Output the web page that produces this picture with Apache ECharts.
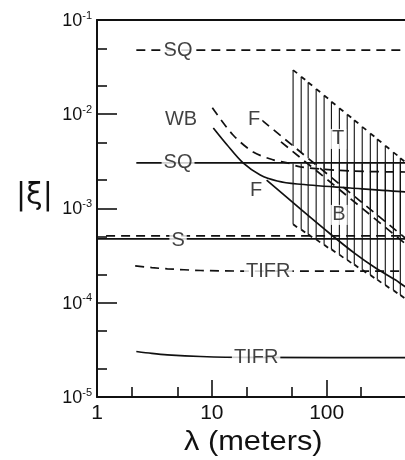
<!DOCTYPE html>
<html><head><meta charset="utf-8">
<script src="https://cdn.jsdelivr.net/npm/echarts@6/dist/echarts.min.js"></script>
<style>html,body{margin:0;padding:0;background:#fff}#c{width:405px;height:460px}</style>
</head><body><div id="c"></div>
<script>
// ---- axis ticks / labels ----
const xMin = 1, xMax = 481;          // the picture is cut at about 480 m
const yMin = 1e-5, yMax = 1e-1;
const xMajorTicks = [1, 10, 100];
const xMinorTicks = [2, 5, 20, 50, 200];
const xTickLabels = ['1', '10', '100'];
const yMajorTicks = [1e-5, 1e-4, 1e-3, 1e-2, 1e-1];
const yMinorTicks = [2e-5, 5e-5, 2e-4, 5e-4, 2e-3, 5e-3, 2e-2, 5e-2];
const yTickExponents = ['-5', '-4', '-3', '-2', '-1'];

// ---- curves (lambda in meters, |xi|) ----
const sqDashedLambda = [2.2, 1000];
const sqDashedXi = [4.8e-2, 4.8e-2];
const sqSolidLambda = [2.2, 1000];
const sqSolidXi = [3.05e-3, 3.05e-3];
const sSolidLambda = [1, 1000];
const sSolidXi = [4.77e-4, 4.77e-4];
const sDashedLambda = [1.2, 1000];
const sDashedXi = [5.12e-4, 5.12e-4];
const tifrDashedLambda = [2.15, 3, 4.1, 8, 20, 1000];
const tifrDashedXi = [2.46e-4, 2.36e-4, 2.29e-4, 2.2e-4, 2.17e-4, 2.17e-4];
const tifrSolidLambda = [2.2, 3, 4.1, 8, 20, 1000];
const tifrSolidXi = [3.04e-5, 2.9e-5, 2.8e-5, 2.69e-5, 2.63e-5, 2.62e-5];
const wbLambda = [10.3, 13.6, 18.7, 26.4, 37.1, 55.4, 160, 484, 1000];
const wbXi = [7.16e-3, 4.72e-3, 3.05e-3, 2.27e-3, 1.96e-3, 1.82e-3, 1.65e-3, 1.5e-3, 1.45e-3];
const fDashedALambda = [10.1, 15.3, 22.9, 34.2, 45.4, 58.9, 160, 484, 1000];
const fDashedAXi = [1.17e-2, 6.03e-3, 3.98e-3, 3.28e-3, 3.05e-3, 2.76e-3, 2.5e-3, 2.44e-3, 2.42e-3];
const fDashedBLambda = [27.4, 100, 1000];
const fDashedBXi = [8.6e-3, 2.35e-3, 2.35e-4];
const fDashedCLambda = [40, 100, 1000];
const fDashedCXi = [5.1e-3, 2.05e-3, 2.05e-4];
const fSolidLambda = [30, 59, 107, 178, 265, 396, 484, 700];
const fSolidXi = [2.0e-3, 9.9e-4, 5.4e-4, 3.3e-4, 2.35e-4, 1.75e-4, 1.48e-4, 1.2e-4];

// ---- hatched regions ----
const hatchLambda = [51, 60, 69, 81, 95, 110, 129, 151, 174, 204, 240, 276, 324, 381, 438];
const tTopXi = [0.0294, 0.025, 0.0217, 0.0185, 0.0158, 0.0136, 0.0116, 0.00993, 0.00862, 0.00735, 0.00625, 0.00543, 0.00463, 0.00394, 0.00342];
const tBottomXi = [4.61e-3, 3.92e-3, 3.41e-3, 2.90e-3, 2.47e-3, 2.14e-3, 1.82e-3, 1.56e-3, 1.35e-3, 1.15e-3, 9.8e-4, 8.5e-4, 7.25e-4, 6.17e-4, 5.37e-4];
const bTopXi = [3.0e-3, 3.0e-3, 3.0e-3, 3.0e-3, 3.0e-3, 3.0e-3, 3.0e-3, 3.0e-3, 3.0e-3, 3.0e-3, 3.0e-3, 3.0e-3, 3.0e-3, 3.0e-3, 3.0e-3];
const bBottomXi = [6.8e-4, 5.99e-4, 5.34e-4, 4.7e-4, 4.13e-4, 3.69e-4, 3.24e-4, 2.85e-4, 2.55e-4, 2.24e-4, 1.97e-4, 1.76e-4, 1.54e-4, 1.36e-4, 1.21e-4];

// ---- curve labels ----
const labelTexts = ['SQ', 'SQ', 'WB', 'F', 'F', 'T', 'B', 'S', 'TIFR', 'TIFR'];
const labelLambda = [5.08, 5.08, 5.4, 23.4, 24.3, 126, 128, 5.08, 31, 24.3];
const labelXi = [4.8e-2, 3.05e-3, 8.7e-3, 8.7e-3, 1.57e-3, 5.47e-3, 8.55e-4, 4.6e-4, 2.17e-4, 2.62e-5];

const INK = '#111';
const FONT = '"Liberation Sans", Arial, sans-serif';
const pairs = (a, b) => a.map((v, i) => [v, b[i]]);

function lineSeries(lam, xi, dashed, smooth) {
  return {
    type: 'line', data: pairs(lam, xi), showSymbol: false, symbol: 'none',
    smooth: smooth ? 0.3 : false, z: 3, silent: true,
    lineStyle: { color: INK, width: 1.7, type: dashed ? [9, 6] : 'solid' }
  };
}

function hatchSeries(top, bottom, flagAtTop) {
  return {
    type: 'custom', z: 2, silent: true, clip: true,
    data: hatchLambda.map((l, i) => [l, top[i], bottom[i]]),
    encode: { x: 0, y: [1, 2] },
    renderItem: function (params, api) {
      const p1 = api.coord([api.value(0), api.value(1)]);
      const p2 = api.coord([api.value(0), api.value(2)]);
      const f = flagAtTop ? p1 : p2;
      return {
        type: 'group', children: [
          { type: 'line', shape: { x1: p1[0], y1: p1[1], x2: p2[0], y2: p2[1] }, style: { stroke: INK, lineWidth: 1.1 } },
          { type: 'line', shape: { x1: f[0], y1: f[1], x2: f[0] + 4, y2: f[1] + 3 }, style: { stroke: INK, lineWidth: 1.8 } }
        ]
      };
    }
  };
}

function findIdx(arr, v) {
  return arr.findIndex(a => Math.abs(Math.log10(a) - Math.log10(v)) < 1e-6);
}

const logX = extra => Object.assign({ type: 'log', logBase: 10, min: xMin, max: xMax, splitLine: { show: false }, minorTick: { show: false } }, extra);
const logY = extra => Object.assign({ type: 'log', logBase: 10, min: yMin, max: yMax, splitLine: { show: false }, minorTick: { show: false } }, extra);

const chart = echarts.init(document.getElementById('c'), null, { renderer: 'canvas' });
chart.setOption({
  backgroundColor: '#fff',
  animation: false,
  grid: { left: 97, top: 20, bottom: 63, right: 0 },
  xAxis: [
    logX({
      position: 'bottom',
      axisLine: { show: true, lineStyle: { color: INK, width: 2 } },
      axisTick: { show: true, inside: true, length: 17, lineStyle: { color: INK, width: 1.6 }, customValues: xMajorTicks },
      axisLabel: {
        show: true, margin: 6, color: INK, fontSize: 21, fontFamily: FONT,
        customValues: xMajorTicks,
        formatter: v => xTickLabels[findIdx(xMajorTicks, v)]
      }
    }),
    logX({
      position: 'bottom', offset: 0,
      axisLine: { show: false },
      axisTick: { show: true, inside: true, length: 10, lineStyle: { color: INK, width: 1.6 }, customValues: xMinorTicks },
      axisLabel: { show: false }
    }),
    logX({
      position: 'top', offset: 0,
      axisLine: { show: true, lineStyle: { color: INK, width: 2 } },
      axisTick: { show: false }, axisLabel: { show: false }
    })
  ],
  yAxis: [
    logY({
      position: 'left',
      axisLine: { show: true, lineStyle: { color: INK, width: 2 } },
      axisTick: { show: true, inside: true, length: 20, lineStyle: { color: INK, width: 1.6 }, customValues: yMajorTicks },
      axisLabel: {
        show: true, margin: 5, color: INK, fontFamily: FONT,
        customValues: yMajorTicks,
        formatter: v => '{b|10}{s|' + yTickExponents[findIdx(yMajorTicks, v)] + '}',
        rich: {
          b: { fontSize: 18, fontFamily: FONT, color: INK, lineHeight: 20, verticalAlign: 'bottom' },
          s: { fontSize: 11, fontFamily: FONT, color: INK, lineHeight: 20, verticalAlign: 'top', padding: [0, 0, 8, 0] }
        }
      }
    }),
    logY({
      position: 'left', offset: 0,
      axisLine: { show: false },
      axisTick: { show: true, inside: true, length: 10, lineStyle: { color: INK, width: 1.6 }, customValues: yMinorTicks },
      axisLabel: { show: false }
    })
  ],
  graphic: [
    { type: 'text', left: 16, top: 181, style: { text: '|ξ|', font: '30px "DejaVu Sans", sans-serif', fill: INK } },
    { type: 'text', left: 184, top: 428, scaleX: 1.1, style: { text: 'λ (meters)', font: '28px "Liberation Sans", Arial, sans-serif', fill: INK } }
  ],
  series: [
    lineSeries(sqDashedLambda, sqDashedXi, true, false),
    lineSeries(sqSolidLambda, sqSolidXi, false, false),
    lineSeries(sSolidLambda, sSolidXi, false, false),
    lineSeries(sDashedLambda, sDashedXi, true, false),
    lineSeries(tifrDashedLambda, tifrDashedXi, true, true),
    lineSeries(tifrSolidLambda, tifrSolidXi, false, true),
    lineSeries(wbLambda, wbXi, false, true),
    lineSeries(fDashedALambda, fDashedAXi, true, true),
    lineSeries(fDashedBLambda, fDashedBXi, true, false),
    lineSeries(fDashedCLambda, fDashedCXi, true, false),
    lineSeries(fSolidLambda, fSolidXi, false, true),
    hatchSeries(tTopXi, tBottomXi, true),
    hatchSeries(bTopXi, bBottomXi, false),
    {
      type: 'scatter', z: 6, silent: true, symbolSize: 1,
      itemStyle: { color: 'rgba(0,0,0,0)' },
      data: labelTexts.map((t, i) => ({ name: t, value: [labelLambda[i], labelXi[i]] })),
      label: {
        show: true, position: 'inside', formatter: p => p.name,
        fontSize: 20, fontFamily: FONT, color: INK,
        backgroundColor: '#fff', padding: [0, 2]
      }
    }
  ]
});
</script>
</body></html>
